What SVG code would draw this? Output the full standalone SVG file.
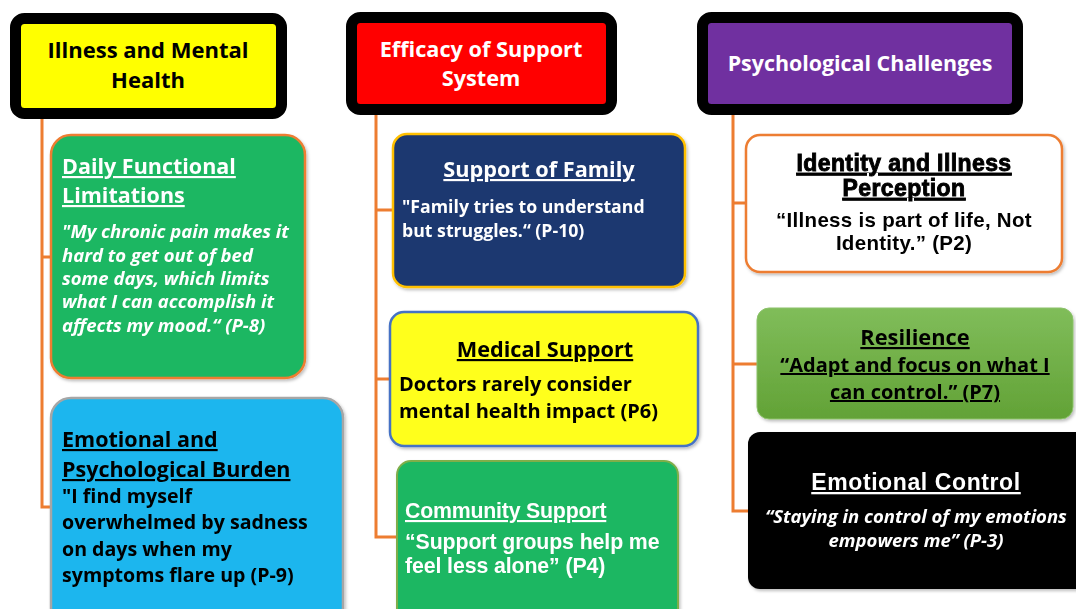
<svg xmlns="http://www.w3.org/2000/svg" width="1076" height="609" viewBox="0 0 1076 609">
  <defs>
    <linearGradient id="gradGreen" x1="0" y1="0" x2="0" y2="1">
      <stop offset="0" stop-color="#80BD5A"/>
      <stop offset="1" stop-color="#62A236"/>
    </linearGradient>
    <filter id="shadow" x="-10%" y="-10%" width="125%" height="125%">
      <feDropShadow dx="1.5" dy="2" stdDeviation="1.5" flood-color="#000" flood-opacity="0.25"/>
    </filter>
  </defs>
  <style>
    .hdr { stroke: #000; stroke-width: 11; }
    .link { fill: none; stroke: #ED7D31; stroke-width: 3; }
    .cal { font-family: "Open Sans", Lato, sans-serif; font-weight: bold; }
    .ari { font-family: "Liberation Sans", Arial, sans-serif; font-weight: bold; }
    .u { text-decoration: underline; }
    .it { font-style: italic; }
    .w { fill: #fff; }
    .k { fill: #000; }
    .mid { text-anchor: middle; }
  </style>
  <rect width="1076" height="609" fill="#fff"/>

  <!-- branch lines -->
  <g id="connectors">
    <path class="link" d="M42 113 V507 H51 M42 257 H51"/>
    <path class="link" d="M376 112 V537 H397 M376 210 H393 M376 379 H390"/>
    <path class="link" d="M733 113 V511 H748 M733 203 H746 M733 364 H757"/>
  </g>

  <!-- column headers -->
  <g id="hdr-illness">
    <rect class="hdr" x="15.5" y="18.5" width="266" height="95" rx="9" fill="#FFFF00"/>
    <text class="cal k mid" x="148" y="58" font-size="22">Illness and Mental</text>
    <text class="cal k mid" x="148" y="88" font-size="22">Health</text>
  </g>
  <g id="hdr-support">
    <rect class="hdr" x="351.5" y="17.5" width="260" height="92" rx="9" fill="#FF0000"/>
    <text class="cal w mid" x="481" y="57" font-size="21.7">Efficacy of Support</text>
    <text class="cal w mid" x="481" y="86" font-size="21.7">System</text>
  </g>
  <g id="hdr-psych">
    <rect class="hdr" x="702.5" y="17.5" width="315" height="92" rx="9" fill="#7030A0"/>
    <text class="cal w mid" x="860" y="71" font-size="21.4">Psychological Challenges</text>
  </g>

  <!-- column 1 -->
  <g id="daily-functional" filter="url(#shadow)">
    <rect x="51" y="135" width="254" height="243" rx="20" fill="#1EB762" stroke="#ED7D31" stroke-width="2.5"/>
    <text class="cal w u" x="62" y="174" font-size="21.5">Daily Functional</text>
    <text class="cal w u" x="62" y="203" font-size="21.5">Limitations</text>
    <g class="cal w it" font-size="18.5">
      <text x="62" y="238">"My chronic pain makes it</text>
      <text x="62" y="262">hard to get out of bed</text>
      <text x="62" y="285">some days, which limits</text>
      <text x="62" y="308">what I can accomplish it</text>
      <text x="62" y="332">affects my mood.“ (P-8)</text>
    </g>
  </g>
  <g id="emotional-burden" filter="url(#shadow)">
    <rect x="51" y="398" width="292" height="230" rx="20" fill="#1BB6EE" stroke="#A6A6A6" stroke-width="2.5"/>
    <text class="cal k u" x="62" y="447" font-size="21.5">Emotional and</text>
    <text class="cal k u" x="62" y="477" font-size="21.5">Psychological Burden</text>
    <g class="cal k" font-size="19.6">
      <text x="62" y="503">"I find myself</text>
      <text x="62" y="529">overwhelmed by sadness</text>
      <text x="62" y="556">on days when my</text>
      <text x="62" y="582">symptoms flare up (P-9)</text>
    </g>
  </g>

  <!-- column 2 -->
  <g id="family" filter="url(#shadow)">
    <rect x="393" y="134" width="292" height="153" rx="14" fill="#1B376F" stroke="#FFC000" stroke-width="2.5"/>
    <text class="cal w u mid" x="539" y="177" font-size="21.7">Support of Family</text>
    <text class="cal w" x="402" y="213" font-size="17.7">"Family tries to understand</text>
    <text class="cal w" x="402" y="237" font-size="17.7">but struggles.“ (P-10)</text>
  </g>
  <g id="medical" filter="url(#shadow)">
    <rect x="390" y="312" width="308" height="134" rx="14" fill="#FFFF1A" stroke="#4472C4" stroke-width="2.5"/>
    <text class="cal k u mid" x="545" y="357" font-size="21.7">Medical Support</text>
    <text class="cal k" x="399" y="391" font-size="20">Doctors rarely consider</text>
    <text class="cal k" x="399" y="418" font-size="20">mental health impact (P6)</text>
  </g>
  <g id="community" filter="url(#shadow)">
    <rect x="397" y="461" width="281" height="170" rx="14" fill="#1EB762" stroke="#7FAE4A" stroke-width="2"/>
    <text class="ari w u" x="405" y="518" font-size="21.3" letter-spacing="-0.2">Community Support</text>
    <text class="ari w" x="405" y="549" font-size="21.3" letter-spacing="-0.1">“Support groups help me</text>
    <text class="ari w" x="405" y="573" font-size="21.3" letter-spacing="-0.1">feel less alone” (P4)</text>
  </g>

  <!-- column 3 -->
  <g id="identity" filter="url(#shadow)">
    <rect x="746" y="135" width="316" height="137" rx="14" fill="#fff" stroke="#ED7D31" stroke-width="2.5"/>
    <text class="ari k u mid" x="904" y="171" font-size="23" stroke="#000" stroke-width="0.9" letter-spacing="0.4">Identity and Illness</text>
    <text class="ari k u mid" x="904" y="196" font-size="23" stroke="#000" stroke-width="0.9" letter-spacing="0.4">Perception</text>
    <text class="ari k mid" x="904" y="227" font-size="20.5" letter-spacing="0.3">“Illness is part of life, Not</text>
    <text class="ari k mid" x="904" y="250" font-size="20.5" letter-spacing="0.3">Identity.” (P2)</text>
  </g>
  <g id="resilience" filter="url(#shadow)">
    <rect x="757" y="308" width="316" height="111" rx="12" fill="url(#gradGreen)" stroke="#8CC26B" stroke-width="1"/>
    <text class="cal k u mid" x="915" y="345" font-size="21.8">Resilience</text>
    <text class="cal k u mid" x="915" y="372" font-size="20">“Adapt and focus on what I</text>
    <text class="cal k u mid" x="915" y="399" font-size="20">can control.” (P7)</text>
  </g>
  <g id="emotional-control" filter="url(#shadow)">
    <rect x="748" y="432" width="345" height="157" rx="12" fill="#000"/>
    <text class="ari w u mid" x="916" y="490" font-size="23" letter-spacing="0.6">Emotional Control</text>
    <text class="cal w it mid" x="916" y="523" font-size="18.5">“Staying in control of my emotions</text>
    <text class="cal w it mid" x="916" y="547" font-size="18.5">empowers me” (P-3)</text>
  </g>
</svg>
